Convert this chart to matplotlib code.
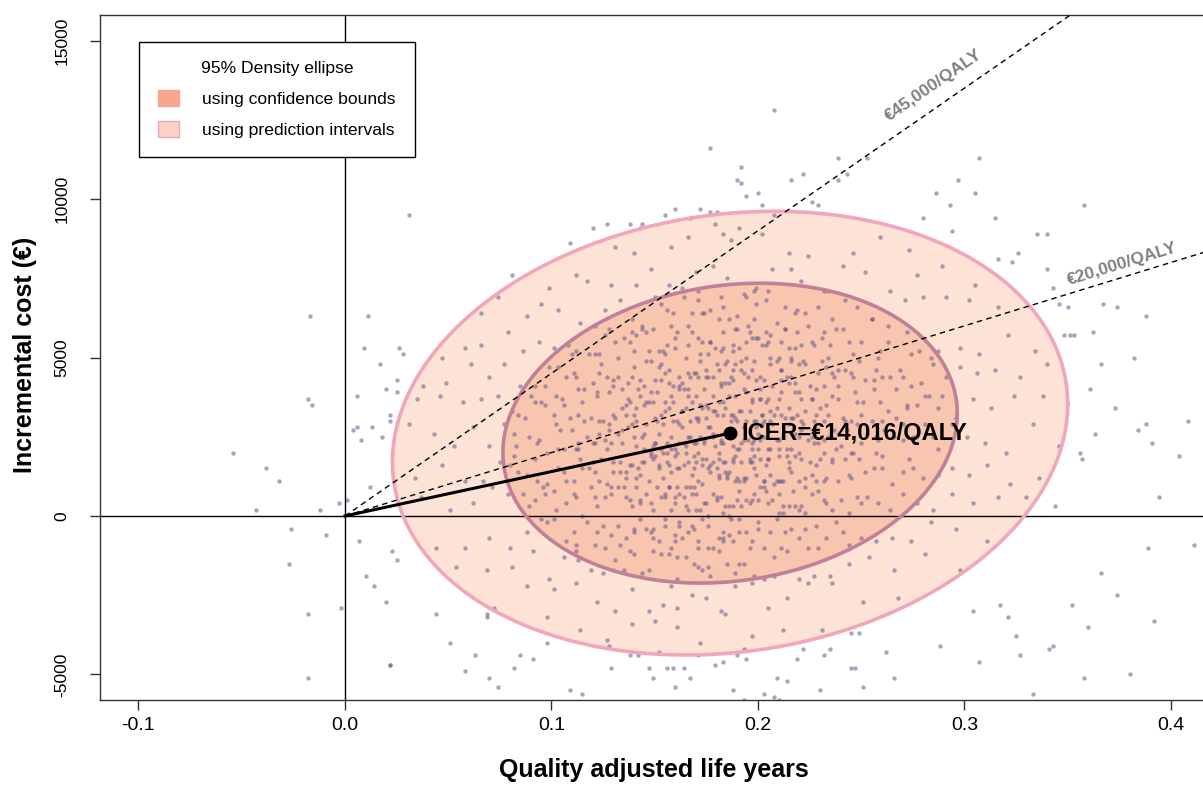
import numpy as np
import matplotlib.pyplot as plt
from matplotlib.patches import Patch

plt.rcParams['font.family'] = ['Liberation Sans', 'DejaVu Sans']
plt.rcParams['axes.unicode_minus'] = False

# bootstrap replicates: (QALY gain x 1000, incremental cost / 100 EUR)
sims_top = [
    (143, 91), (167, 94), (191, 91), (208, 95), (226, 99), (179, 92),
    (109, 86), (131, 85), (140, 83), (158, 85), (166, 88), (183, 89), (187, 87), (202, 89), (215, 83),
    (224, 82), (246, 83), (259, 88), (273, 84),
    (81, 76), (99, 72), (112, 76), (117, 74), (129, 73), (141, 73), (148, 78), (157, 73), (163, 72),
    (170, 77), (178, 79), (185, 75), (193, 70), (199, 72), (207, 78), (216, 78), (221, 74), (234, 71),
    (241, 79), (252, 77), (264, 71), (277, 76), (289, 79), (305, 73),
    (66, 64), (74, 69), (88, 63), (95, 67), (103, 65), (114, 61), (121, 60), (126, 65), (133, 68),
    (139, 62), (144, 60), (150, 69), (153, 67), (159, 64), (164, 69), (168, 64), (173, 64), (177, 65),
    (182, 69), (186, 62), (190, 63), (195, 60), (199, 67), (204, 68), (209, 61), (213, 66), (218, 64),
    (224, 60), (229, 66), (236, 62), (242, 68), (248, 66), (255, 62), (263, 60), (271, 68), (280, 69),
    (291, 69), (302, 68), (316, 66), (198, 62), (171, 68),
]
sims_upper = [
    (47, 50), (58, 53), (66, 54), (79, 58), (86, 52), (94, 55), (101, 53), (108, 54), (112, 52), (118, 51),
    (123, 51), (126, 57), (132, 50), (135, 56), (141, 57), (144, 59), (146, 58), (152, 52), (155, 51),
    (156, 54), (161, 58), (165, 50), (168, 58), (171, 56), (173, 55), (176, 51), (179, 53), (182, 52),
    (183, 58), (188, 52), (191, 53), (194, 50), (197, 56), (200, 56), (204, 54), (206, 57), (210, 50),
    (213, 59), (215, 53), (219, 58), (221, 54), (227, 54), (231, 56), (234, 50), (241, 59), (244, 55),
    (250, 55), (258, 50), (263, 55), (272, 58), (278, 52), (287, 52), (298, 53), (307, 51), (321, 57),
    (334, 52), (138, 55), (160, 53), (177, 55), (190, 59), (202, 54), (216, 50), (232, 58),
    (38, 41), (49, 42), (61, 48), (70, 44), (77, 48), (85, 41), (92, 41), (97, 41), (103, 47), (107, 44),
    (111, 45), (116, 40), (120, 42), (124, 48), (127, 44), (130, 41), (134, 40), (137, 42), (140, 47),
    (142, 40), (145, 41), (148, 49), (150, 43), (153, 48), (155, 45), (157, 42), (159, 41), (162, 41),
    (164, 40), (166, 45), (169, 45), (170, 45), (172, 49), (175, 46), (176, 44), (178, 44), (181, 46),
    (182, 42), (184, 42), (185, 49), (187, 44), (189, 48), (192, 49), (193, 45), (195, 44), (198, 49),
    (199, 43), (201, 40), (203, 43), (206, 48), (207, 41), (209, 49), (211, 46), (214, 44), (216, 44),
    (218, 42), (220, 48), (223, 48), (225, 41), (228, 40), (231, 49), (233, 47), (236, 45), (239, 46),
    (242, 46), (245, 45), (249, 49), (252, 43), (256, 43), (260, 44), (264, 44), (269, 46), (274, 41),
    (279, 42), (285, 48), (291, 44), (298, 47), (306, 45), (315, 46), (327, 44), (340, 48), (163, 42),
    (188, 43), (211, 43),
]
sims_middle = [
    (35, 37), (46, 38), (57, 36), (66, 37), (74, 38), (81, 33), (87, 31), (92, 36), (97, 35), (101, 32),
    (105, 37), (109, 31), (113, 32), (116, 30), (119, 31), (122, 39), (125, 30), (128, 39), (131, 31),
    (134, 34), (136, 35), (138, 36), (141, 34), (143, 38), (145, 35), (147, 36), (149, 36), (151, 39),
    (153, 32), (155, 33), (157, 34), (159, 36), (161, 30), (163, 33), (165, 34), (166, 38), (168, 36),
    (170, 31), (171, 30), (173, 34), (175, 35), (176, 34), (178, 33), (180, 32), (181, 36), (183, 36),
    (184, 34), (186, 38), (188, 32), (189, 31), (191, 33), (192, 33), (194, 39), (196, 33), (197, 36),
    (199, 30), (201, 37), (202, 32), (204, 36), (206, 30), (208, 32), (209, 34), (211, 39), (213, 31),
    (215, 34), (217, 31), (219, 32), (221, 37), (223, 33), (226, 37), (228, 32), (230, 34), (233, 35),
    (236, 38), (239, 37), (242, 30), (245, 30), (248, 36), (251, 36), (255, 30), (259, 36), (263, 33),
    (267, 31), (272, 35), (277, 35), (283, 38), (289, 38), (296, 31), (304, 37), (313, 34), (324, 38),
    (338, 38), (150, 31), (172, 35), (187, 32), (203, 30), (218, 39), (140, 32), (232, 30),
    (31, 29), (43, 26), (53, 22), (62, 28), (70, 22), (77, 29), (83, 22), (89, 25), (94, 24), (98, 20),
    (102, 29), (106, 21), (110, 27), (113, 21), (117, 25), (120, 23), (123, 26), (126, 24), (129, 23),
    (132, 26), (134, 27), (137, 28), (139, 29), (141, 22), (144, 25), (146, 29), (148, 20), (150, 23),
    (152, 26), (154, 20), (156, 20), (158, 21), (160, 21), (162, 23), (164, 23), (165, 20), (167, 25),
    (169, 23), (171, 20), (172, 25), (174, 24), (176, 28), (177, 28), (179, 22), (181, 20), (182, 24),
    (184, 26), (185, 26), (187, 25), (188, 22), (190, 21), (192, 23), (193, 28), (195, 24), (197, 21),
    (198, 24), (200, 26), (202, 29), (203, 25), (205, 21), (207, 29), (209, 24), (210, 21), (212, 25),
    (214, 21), (216, 21), (218, 26), (220, 20), (222, 29), (224, 24), (227, 23), (229, 23), (232, 20),
    (234, 25), (237, 27), (240, 22), (243, 27), (246, 20), (250, 23), (253, 26), (257, 25), (261, 27),
    (266, 25), (270, 29), (275, 25), (281, 29), (287, 21), (294, 29), (301, 25), (310, 23), (320, 20),
    (333, 29), (346, 22), (145, 21), (163, 28), (178, 26), (191, 21), (206, 21), (221, 27), (156, 23),
    (199, 28), (238, 21), (128, 29), (183, 23),
    (34, 12), (47, 16), (58, 11), (67, 11), (75, 17), (82, 19), (88, 13), (93, 11), (98, 10), (103, 15),
    (107, 11), (111, 11), (114, 18), (118, 15), (121, 14), (124, 18), (127, 10), (130, 17), (133, 14),
    (136, 14), (138, 16), (141, 12), (143, 13), (145, 17), (148, 19), (150, 19), (152, 16), (154, 12),
    (156, 17), (158, 14), (160, 19), (162, 15), (164, 16), (166, 17), (168, 13), (169, 15), (171, 11),
    (173, 18), (175, 18), (176, 15), (178, 17), (180, 15), (181, 12), (183, 17), (185, 12), (186, 14),
    (188, 18), (189, 19), (191, 11), (193, 12), (194, 12), (196, 17), (198, 19), (199, 13), (201, 18),
    (203, 11), (205, 18), (206, 13), (208, 10), (210, 11), (212, 11), (214, 19), (216, 14), (218, 19),
    (220, 11), (223, 12), (225, 17), (228, 11), (230, 18), (233, 12), (236, 18), (239, 11), (242, 18),
    (245, 12), (249, 18), (252, 14), (256, 15), (260, 19), (265, 10), (270, 14), (275, 15), (280, 12),
    (287, 13), (294, 15), (302, 13), (311, 16), (322, 10), (336, 12), (149, 18), (170, 17), (184, 14),
    (197, 17), (211, 11), (226, 13), (161, 15), (190, 12), (204, 16),
]
sims_lower = [
    (37, 6), (51, 2), (62, 4), (71, 9), (79, 7), (86, 7), (92, 5), (97, 7), (102, 2), (107, 4),
    (111, 7), (115, 0), (119, 9), (122, 3), (126, 6), (129, 9), (132, 9), (135, 9), (138, 5), (141, 9),
    (143, 5), (146, 7), (148, 4), (151, 9), (153, 6), (155, 6), (157, 9), (160, 6), (162, 7), (164, 6),
    (166, 2), (168, 7), (170, 7), (172, 2), (174, 4), (176, 0), (178, 7), (180, 6), (182, 6), (184, 3),
    (186, 0), (188, 3), (190, 5), (192, 3), (194, 5), (196, 4), (198, 7), (200, 5), (203, 9), (205, 4),
    (207, 5), (210, 7), (212, 1), (215, 3), (217, 8), (220, 2), (223, 1), (226, 7), (229, 8), (232, 5),
    (236, 2), (240, 5), (244, 1), (248, 6), (253, 6), (258, 4), (264, 2), (270, 7), (277, 4), (285, 2),
    (294, 7), (304, 4), (316, 6), (330, 6), (139, 3), (167, 9), (183, 1), (201, 9), (218, 3), (158, 2),
    (44, -10), (58, -10), (70, -7), (80, -10), (88, -5), (95, -1), (101, -1), (107, -8), (112, -9),
    (117, -2), (121, -9), (125, -3), (129, -6), (133, -9), (136, -7), (140, -5), (143, -1), (146, -4),
    (149, -4), (152, -8), (155, -1), (158, -10), (160, -6), (163, -7), (166, -5), (168, -3), (171, -8),
    (173, -1), (176, -10), (178, -10), (181, -7), (183, -7), (186, -6), (188, -8), (191, -1), (194, -5),
    (197, -8), (200, -4), (203, -10), (206, -5), (209, -1), (213, -5), (216, -4), (220, -7), (224, -10),
    (228, -3), (233, -7), (238, -2), (244, -9), (250, -7), (257, -8), (265, -7), (274, -8), (284, -2),
    (296, -4), (311, -8), (162, -3), (187, -1),
    (54, -16), (69, -17), (81, -16), (91, -11), (99, -20), (106, -13), (113, -14), (119, -17), (125, -18),
    (130, -17), (135, -17), (140, -12), (144, -18), (149, -11), (153, -12), (157, -12), (161, -20),
    (165, -13), (169, -15), (173, -17), (177, -19), (181, -11), (185, -15), (189, -18), (193, -15),
    (198, -19), (203, -20), (208, -19), (214, -11), (220, -20), (227, -19), (235, -19), (244, -15),
    (254, -13), (266, -17), (281, -12), (298, -17), (171, -16),
    (72, -29), (88, -22), (101, -23), (112, -21), (122, -27), (131, -30), (139, -23), (147, -30),
    (154, -28), (161, -29), (168, -25), (175, -26), (182, -30), (189, -22), (197, -21), (205, -29),
    (214, -26), (224, -21), (236, -21), (251, -27), (268, -26), (158, -22),
    (98, -32), (114, -36), (127, -39), (139, -34), (150, -33), (161, -35), (172, -40), (184, -31),
    (197, -38), (212, -36), (231, -36),
    (128, -41), (152, -43), (171, -44), (193, -42), (219, -45),
]
sims_core = [
    (156, 65), (171, 71), (183, 66), (194, 69), (205, 71), (219, 65), (232, 71), (198, 71),
    (128, 59), (139, 58), (149, 59), (158, 60), (166, 60), (174, 64), (181, 62), (189, 59), (196, 58),
    (204, 58), (213, 59), (223, 64), (238, 59), (255, 62),
    (110, 51), (121, 51), (131, 55), (140, 52), (147, 52), (154, 52), (160, 56), (166, 54), (172, 51),
    (177, 55), (183, 53), (188, 54), (194, 55), (199, 56), (205, 55), (211, 55), (218, 53), (226, 55),
    (235, 54), (246, 51), (259, 52), (274, 51),
    (99, 47), (112, 44), (123, 45), (132, 44), (139, 44), (146, 49), (152, 47), (157, 46), (162, 44),
    (167, 44), (171, 44), (175, 44), (180, 48), (184, 48), (188, 46), (192, 46), (197, 46), (201, 44),
    (206, 50), (211, 46), (216, 49), (222, 49), (229, 45), (237, 44), (246, 44), (257, 46), (270, 44),
    (284, 50),
    (90, 38), (102, 38), (113, 40), (122, 38), (130, 43), (137, 37), (143, 43), (148, 39), (153, 43),
    (158, 38), (162, 40), (166, 40), (170, 38), (174, 40), (178, 38), (182, 41), (186, 42), (189, 38),
    (193, 40), (197, 37), (201, 37), (205, 37), (210, 37), (215, 42), (220, 39), (226, 37), (232, 41),
    (239, 41), (247, 39), (256, 40), (267, 40), (281, 38),
    (84, 32), (95, 36), (106, 35), (115, 36), (123, 30), (130, 32), (136, 32), (141, 30), (146, 36),
    (151, 30), (155, 36), (159, 30), (163, 33), (167, 30), (171, 31), (175, 31), (179, 33), (183, 32),
    (187, 30), (190, 30), (194, 30), (198, 30), (202, 32), (206, 33), (211, 32), (216, 31), (221, 30),
    (227, 30), (234, 32), (241, 31), (250, 32), (260, 30), (272, 34), (287, 34),
    (82, 26), (93, 23), (104, 27), (113, 23), (121, 23), (128, 27), (134, 23), (140, 25), (145, 26),
    (150, 23), (154, 29), (158, 25), (162, 29), (166, 25), (170, 23), (174, 23), (178, 25), (182, 23),
    (185, 25), (189, 26), (193, 24), (197, 23), (201, 24), (205, 27), (210, 24), (215, 29), (220, 25),
    (226, 25), (232, 24), (239, 26), (248, 29), (258, 24), (270, 24), (285, 25),
    (80, 16), (92, 18), (103, 21), (112, 21), (120, 17), (127, 21), (133, 17), (139, 16), (144, 17),
    (149, 22), (153, 21), (157, 16), (161, 20), (165, 22), (169, 19), (173, 16), (177, 16), (181, 18),
    (184, 17), (188, 17), (192, 17), (196, 18), (200, 21), (205, 18), (210, 19), (215, 17), (221, 18),
    (228, 16), (236, 17), (245, 20), (257, 20), (273, 18),
    (84, 14), (96, 9), (106, 14), (115, 15), (123, 11), (130, 14), (136, 12), (142, 15), (147, 11),
    (152, 15), (157, 9), (161, 9), (165, 9), (169, 9), (173, 10), (177, 14), (181, 13), (185, 13),
    (189, 11), (193, 11), (198, 15), (203, 11), (209, 11), (215, 15), (223, 9), (232, 11), (244, 13),
    (260, 15),
    (89, 3), (101, 8), (112, 6), (121, 6), (129, 7), (136, 6), (143, 4), (149, 2), (155, 7), (160, 4),
    (165, 3), (170, 2), (175, 4), (180, 5), (186, 3), (191, 8), (197, 5), (204, 8), (212, 3), (221, 3),
    (233, 4), (250, 4),
    (98, -2), (111, -5), (122, -5), (132, -3), (140, -4), (148, -5), (155, -3), (162, -2), (169, -4),
    (176, -3), (183, -5), (191, -5), (200, -2), (210, 1), (223, -4), (241, -5),
    (112, -11), (126, -10), (138, -11), (149, -7), (160, -8), (171, -10), (183, -8), (196, -10),
    (211, -10), (229, -10),
    (131, -14), (147, -17), (161, -13), (176, -16), (191, -15), (208, -13),
]
sims_outside = [
    (-17, 63), (11, 63), (9, 53), (26, 53), (28, 51), (17, 48), (25, 43), (20, 40), (25, 39), (6, 38),
    (-18, 37), (-16, 35), (22, 32), (22, 30), (4, 27), (6, 28), (13, 28), (8, 24), (18, 25), (-54, 20),
    (-38, 15), (-32, 11), (12, 9), (-3, 4), (1, 5), (-43, 2), (-12, 2), (-26, -4), (-9, -6), (7, -8),
    (-27, -15), (23, -11), (25, -14), (10, -19), (14, -22), (20, -27), (-2, -29), (-18, -31), (22, -47),
    (-18, -51), (31, 95),
    (208, 128), (177, 116), (192, 110), (190, 106), (192, 105), (194, 101), (200, 102), (216, 106),
    (222, 108), (202, 98), (155, 95), (160, 97), (172, 97), (177, 96), (180, 96), (120, 91), (127, 92),
    (138, 92), (144, 92), (229, 98),
    (239, 113), (253, 113), (307, 113), (239, 106), (243, 108), (297, 106), (286, 102), (305, 102),
    (293, 98), (358, 98), (280, 94), (315, 94), (294, 90), (335, 89), (340, 89), (326, 83), (316, 81),
    (323, 80), (340, 78), (343, 72),
    (367, 67), (374, 66), (388, 63), (346, 67), (350, 66), (351, 57), (353, 57), (348, 57), (362, 58),
    (382, 50), (366, 48), (361, 40), (373, 34), (408, 30), (388, 29), (384, 27), (391, 23), (363, 26),
    (404, 19), (356, 20), (357, 18), (394, 6), (344, 3), (411, -9), (389, -10), (374, -25), (360, -35),
    (392, -33), (341, -42), (380, -50), (366, -18), (352, -28),
    (304, -30), (317, -28), (321, -32), (325, -38), (288, -41), (343, -41), (327, -44), (307, -46),
    (262, -43), (266, -51), (251, -54), (358, -51), (333, -56), (245, -48), (247, -48), (232, -44),
    (235, -42), (230, -55), (214, -52), (209, -51), (203, -56), (208, -57), (193, -58), (210, -58),
    (188, -55), (190, -44), (194, -45), (179, -47), (183, -46), (167, -51), (160, -54), (149, -51),
    (147, -48), (156, -48), (159, -48), (164, -48), (138, -44), (142, -44), (129, -48), (115, -56),
    (109, -55), (98, -40), (91, -45), (85, -44), (82, -48), (70, -51), (74, -54), (63, -44), (58, -49),
    (51, -40), (44, -31), (22, -47), (69, -31), (69, -32), (249, -37), (245, -37), (222, -42),
]

icer = 14016
mean_qaly = 0.1865
mean_cost = icer * mean_qaly
wtp = [45000, 20000]
wtp_label_pos = [(0.2850, 13600), (0.3763, 7950)]
xticks = [-0.1, 0.0, 0.1, 0.2, 0.3, 0.4]
yticks = [-5000, 0, 5000, 10000, 15000]

# 95% density ellipses (half extents in QALY and EUR, common tilt)
pred_half = (0.1635, 7000)
conf_half = (0.1100, 4730)
ell_rho = 0.13

pred_fill, pred_edge = '#fde3d6', '#f1a6bb'
conf_fill, conf_edge = '#f8c6ae', '#c27f98'
dot_color = '#66568a'


def ellipse_xy(hx, hy, rho, n=400):
    t = np.linspace(0, 2 * np.pi, n)
    x = mean_qaly + hx * np.cos(t)
    y = mean_cost + hy * (rho * np.cos(t) + np.sqrt(1 - rho ** 2) * np.sin(t))
    return x, y


fig = plt.figure(figsize=(12.03, 7.85), dpi=100)
ax = fig.add_axes([100 / 1203, 85 / 785, 1103 / 1203, 685 / 785])
ax.set_xlim(-0.1186, 0.4155)
ax.set_ylim(-5805, 15806)

xo, yo = ellipse_xy(*pred_half, ell_rho)
xi, yi = ellipse_xy(*conf_half, ell_rho)
ax.fill(xo, yo, color=pred_fill, lw=0, zorder=1)
ax.fill(xi, yi, color=conf_fill, lw=0, zorder=1.1)

pts = np.array(sims_top + sims_upper + sims_middle + sims_lower + sims_core + sims_outside,
               dtype=float)
ax.scatter(pts[:, 0] / 1000, pts[:, 1] * 100, s=10, color=dot_color, alpha=0.55,
           linewidths=0, zorder=2)

ax.plot(xo, yo, color=pred_edge, lw=2.6, zorder=3)
ax.plot(xi, yi, color=conf_edge, lw=2.6, zorder=3)

ax.axhline(0, color='black', lw=1, zorder=2.5)
ax.axvline(0, color='black', lw=1, zorder=2.5)

# willingness-to-pay thresholds
xs = np.array([0, 0.5])
for w, (lx, ly) in zip(wtp, wtp_label_pos):
    ax.plot(xs, w * xs, color='black', lw=1, ls=(0, (4, 3)), zorder=4)
    p0 = ax.transData.transform((0, 0))
    p1 = ax.transData.transform((0.3, 0.3 * w))
    ang = np.degrees(np.arctan2(p1[1] - p0[1], p1[0] - p0[0]))
    ax.text(lx, ly, f'€{w:,}/QALY', rotation=ang, rotation_mode='anchor',
            ha='center', va='center', fontsize=12.5, fontweight='bold', color='#808080')

ax.plot([0, mean_qaly], [0, mean_cost], color='black', lw=2.2, zorder=5)
ax.plot(mean_qaly, mean_cost, 'o', ms=9, color='black', zorder=6)
ax.text(mean_qaly + 0.0055, mean_cost, f'ICER=€{icer:,}/QALY', fontsize=17,
        fontweight='bold', va='center', ha='left', zorder=6)

ax.set_xticks(xticks)
ax.set_xticklabels([f'{v:.1f}' for v in xticks], fontsize=14)
ax.set_yticks(yticks)
ax.set_yticklabels([str(v) for v in yticks], rotation=90, va='center', fontsize=12.5)
ax.tick_params(axis='both', direction='out', length=7, width=1, color='#333333')
ax.tick_params(axis='x', pad=5)
ax.tick_params(axis='y', pad=15)
for side in ['left', 'bottom', 'top']:
    ax.spines[side].set_color('#333333')
    ax.spines[side].set_linewidth(1)
ax.spines['right'].set_visible(False)

ax.set_xlabel('Quality adjusted life years', fontsize=18, fontweight='bold', va='center')
ax.xaxis.set_label_coords(0.502, -0.102)
ax.set_ylabel('Incremental cost (€)', fontsize=18, fontweight='bold', va='center')
ax.yaxis.set_label_coords(-0.068, 0.504)

handles = [Patch(facecolor='#f6a78d', edgecolor='#f6a78d'),
           Patch(facecolor='#fdd2c2', edgecolor='#eea9b9')]
leg = ax.legend(handles, ['using confidence bounds', 'using prediction intervals'],
                title='95% Density ellipse', loc='upper left',
                bbox_to_anchor=(39 / 1103, 658 / 685), borderaxespad=0,
                fontsize=12.6, title_fontsize=12.6, frameon=True, fancybox=False,
                framealpha=1, edgecolor='black', handlelength=1.2, handleheight=1.0,
                handletextpad=1.3, labelspacing=0.8, borderpad=1.1)
leg.get_frame().set_linewidth(1)

fig.savefig('out.png', dpi=100, facecolor='white')
